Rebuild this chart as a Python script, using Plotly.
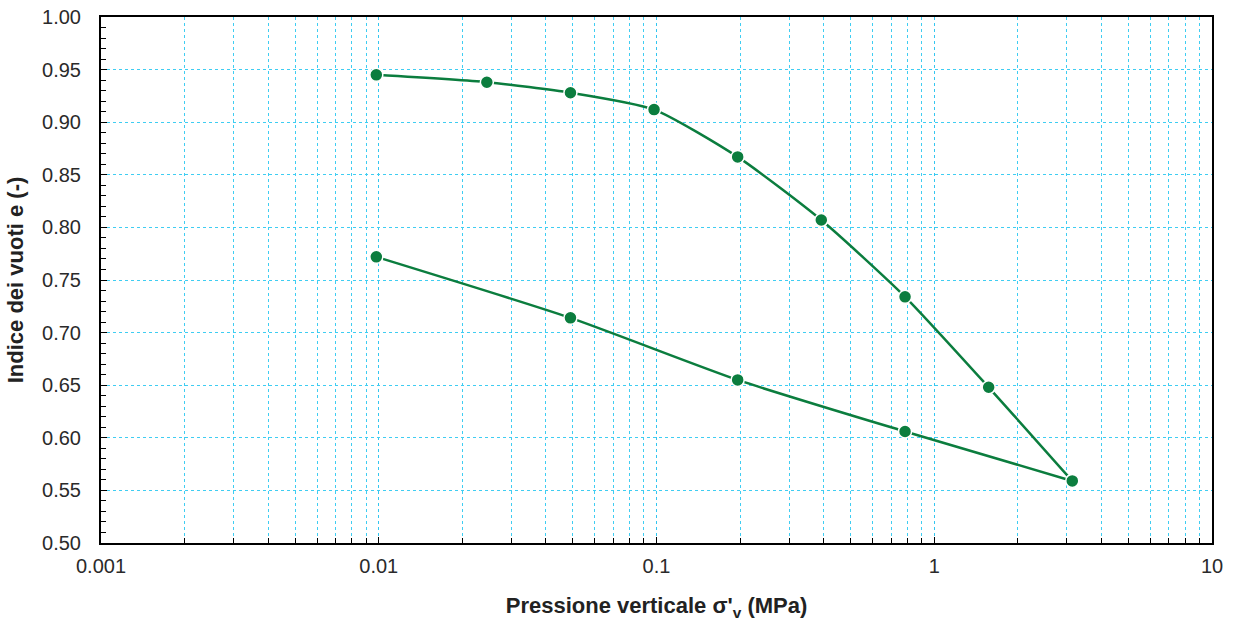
import plotly.graph_objects as go

# Loading branch (carico)
load_p = [0.0098, 0.0245, 0.049, 0.098, 0.196, 0.392, 0.785, 1.57, 3.14]
load_e = [0.945, 0.938, 0.928, 0.912, 0.867, 0.807, 0.734, 0.648, 0.559]
# Unloading branch (scarico)
unload_p = [3.14, 0.785, 0.196, 0.049, 0.0098]
unload_e = [0.559, 0.606, 0.655, 0.714, 0.772]

x_ticks = [0.001, 0.01, 0.1, 1, 10]
x_ticklabels = ["0.001", "0.01", "0.1", "1", "10"]

green = "#0b7d3e"
grid_c = "#3fcdf2"

fig = go.Figure()
for xs, ys in [(load_p, load_e), (unload_p, unload_e)]:
    fig.add_trace(go.Scatter(
        x=xs, y=ys, mode="lines+markers",
        line=dict(color=green, width=2.5, shape="spline", smoothing=0.6),
        marker=dict(size=13, color=green, line=dict(color="white", width=1.5)),
        showlegend=False, hoverinfo="x+y"))

font = "Liberation Sans, Arial, sans-serif"
fig.update_layout(
    template="none",
    width=1234, height=621,
    margin=dict(l=101, r=22, t=17, b=78, autoexpand=False),
    paper_bgcolor="white", plot_bgcolor="white",
    font=dict(family=font, size=20, color="#2a2a2a"),
    xaxis=dict(
        type="log", range=[-3, 1], automargin=False,
        tickvals=x_ticks, ticktext=x_ticklabels,
        showgrid=True, gridcolor="#33c6f0", griddash="dot", gridwidth=1,
        ticks="inside", ticklen=6, tickcolor="#000", tickwidth=1,
        ticklabelstandoff=4,
        minor=dict(dtick="D1", ticks="inside", ticklen=5, tickcolor="#000",
                   showgrid=True, gridcolor=grid_c, griddash="dot", gridwidth=1),
        showline=True, linecolor="black", linewidth=2, mirror=True,
        zeroline=False,
        title=dict(text="<b>Pressione verticale σ'<sub>v</sub> (MPa)</b>",
                   font=dict(size=22, color="#222222"), standoff=22),
    ),
    yaxis=dict(
        range=[0.5, 1.0], dtick=0.05, tickformat=".2f", automargin=False,
        showgrid=True, gridcolor=grid_c, griddash="dot", gridwidth=1,
        ticks="inside", ticklen=6, tickcolor="#000", tickwidth=1,
        ticklabelstandoff=14,
        minor=dict(dtick=0.01, ticks="inside", ticklen=5, tickcolor="#000", showgrid=False),
        showline=True, linecolor="black", linewidth=2, mirror=True,
        zeroline=False,
        title=dict(text="<b>Indice dei vuoti e (-)</b>",
                   font=dict(size=22, color="#222222"), standoff=12),
    ),
)

fig.write_html("out.html")
